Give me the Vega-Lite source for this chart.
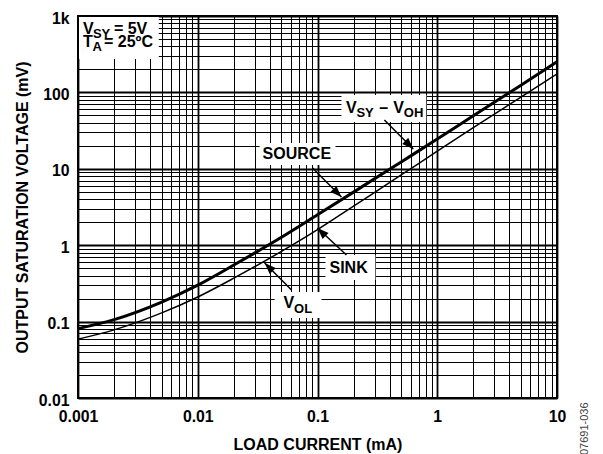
{
  "$schema": "https://vega.github.io/schema/vega-lite/v6.json",
  "width": 479,
  "height": 382,
  "autosize": {"type": "none"},
  "padding": {"left": 78, "top": 16, "right": 46, "bottom": 56},
  "background": "white",
  "config": {
    "view": {"stroke": null},
    "font": "Liberation Sans",
    "axis": {
      "labelFont": "Liberation Sans",
      "labelFontWeight": "bold",
      "labelFontSize": 15.8,
      "labelColor": "#000000",
      "titleFont": "Liberation Sans",
      "titleFontWeight": "bold",
      "titleFontSize": 16,
      "titleColor": "#000000",
      "domain": false,
      "ticks": false,
      "tickSize": 0,
      "grid": true,
      "gridColor": "#000000",
      "gridOpacity": 1,
      "labelFlush": false,
      "labelOverlap": false
    }
  },
  "datasets": {
    "curves": [
      {"series": "SOURCE", "current": 0.001, "voltage": 0.081},
      {"series": "SOURCE", "current": 0.002, "voltage": 0.106},
      {"series": "SOURCE", "current": 0.005, "voltage": 0.18},
      {"series": "SOURCE", "current": 0.01, "voltage": 0.30},
      {"series": "SOURCE", "current": 0.02, "voltage": 0.55},
      {"series": "SOURCE", "current": 0.05, "voltage": 1.27},
      {"series": "SOURCE", "current": 0.1, "voltage": 2.5},
      {"series": "SOURCE", "current": 0.2, "voltage": 4.95},
      {"series": "SOURCE", "current": 0.5, "voltage": 12.3},
      {"series": "SOURCE", "current": 1, "voltage": 24.5},
      {"series": "SOURCE", "current": 2, "voltage": 49.5},
      {"series": "SOURCE", "current": 5, "voltage": 124},
      {"series": "SOURCE", "current": 10, "voltage": 252},
      {"series": "SINK", "current": 0.001, "voltage": 0.059},
      {"series": "SINK", "current": 0.002, "voltage": 0.078},
      {"series": "SINK", "current": 0.005, "voltage": 0.13},
      {"series": "SINK", "current": 0.01, "voltage": 0.21},
      {"series": "SINK", "current": 0.02, "voltage": 0.37},
      {"series": "SINK", "current": 0.05, "voltage": 0.83},
      {"series": "SINK", "current": 0.1, "voltage": 1.6},
      {"series": "SINK", "current": 0.2, "voltage": 3.25},
      {"series": "SINK", "current": 0.5, "voltage": 8.3},
      {"series": "SINK", "current": 1, "voltage": 17.0},
      {"series": "SINK", "current": 2, "voltage": 34.5},
      {"series": "SINK", "current": 5, "voltage": 87},
      {"series": "SINK", "current": 10, "voltage": 174}
    ],
    "boxes": [
      {"box": "conditions", "x1": 0.001, "x2": 0.00473, "y1": 1000, "y2": 273.6},
      {"box": "VSY-VOH", "x1": 0.1585, "x2": 0.81, "y1": 92.5, "y2": 41},
      {"box": "SOURCE", "x1": 0.03285, "x2": 0.1413, "y1": 21.76, "y2": 11.21},
      {"box": "SINK", "x1": 0.1166, "x2": 0.3043, "y1": 0.744, "y2": 0.3504},
      {"box": "VOL", "x1": 0.04383, "x2": 0.108, "y1": 0.2439, "y2": 0.1115}
    ],
    "texts": [
      {"kind": "main", "text": "V", "x": 0.0011, "y": 581},
      {"kind": "sub", "text": "SY", "x": 0.001333, "y": 515},
      {"kind": "main", "text": "= 5V", "x": 0.001995, "y": 581},
      {"kind": "main", "text": "T", "x": 0.0011, "y": 387},
      {"kind": "sub", "text": "A", "x": 0.00132, "y": 348},
      {"kind": "main", "text": "= 25ºC", "x": 0.001647, "y": 387},
      {"kind": "main", "text": "V", "x": 0.1728, "y": 52.95},
      {"kind": "sub", "text": "SY", "x": 0.2114, "y": 47.65},
      {"kind": "main", "text": "–", "x": 0.3286, "y": 52.95},
      {"kind": "main", "text": "V", "x": 0.4299, "y": 52.95},
      {"kind": "sub", "text": "OH", "x": 0.5258, "y": 47.65},
      {"kind": "main", "text": "SOURCE", "x": 0.0348, "y": 13.31},
      {"kind": "main", "text": "SINK", "x": 0.1259, "y": 0.4288},
      {"kind": "main", "text": "V", "x": 0.0521, "y": 0.1507},
      {"kind": "sub", "text": "OL", "x": 0.0637, "y": 0.1308}
    ],
    "arrows": [
      {"label": "VSY-VOH", "dir": "down-right", "xt": 0.3619, "yt": 43.53, "xh": 0.631, "yh": 18.2},
      {"label": "SOURCE", "dir": "down-right", "xt": 0.09085, "yt": 10.24, "xh": 0.1585, "yh": 4.275},
      {"label": "SINK", "dir": "up-left", "xt": 0.1745, "yt": 0.7443, "xh": 0.1, "yh": 1.68},
      {"label": "VOL", "dir": "up-left", "xt": 0.06072, "yt": 0.2593, "xh": 0.03619, "yh": 0.5849}
    ]
  },
  "layer": [
    {
      "data": {"name": "curves"},
      "transform": [{"filter": "datum.series === 'SOURCE'"}],
      "mark": {"type": "line", "color": "#000000", "strokeWidth": 3, "interpolate": "monotone"},
      "encoding": {
        "x": {
          "field": "current",
          "type": "quantitative",
          "scale": {"type": "log", "domain": [0.001, 10], "nice": false},
          "axis": {
            "title": "LOAD CURRENT (mA)",
            "values": [0.001,0.002,0.003,0.004,0.005,0.006,0.007,0.008,0.009,0.01,0.02,0.03,0.04,0.05,0.06,0.07,0.08,0.09,0.1,0.2,0.3,0.4,0.5,0.6,0.7,0.8,0.9,1,2,3,4,5,6,7,8,9,10],
            "labelExpr": "indexof([0.001,0.01,0.1,1,10], datum.value) >= 0 ? format(datum.value, '~g') : ''",
            "gridWidth": {"condition": {"test": "indexof([0.001,0.01,0.1,1,10], datum.value) >= 0", "value": 1.8}, "value": 1},
            "labelPadding": 11,
            "titlePadding": 13
          }
        },
        "y": {
          "field": "voltage",
          "type": "quantitative",
          "scale": {"type": "log", "domain": [0.01, 1000], "nice": false},
          "axis": {
            "title": "OUTPUT SATURATION VOLTAGE (mV)",
            "values": [0.01,0.02,0.03,0.04,0.05,0.06,0.07,0.08,0.09,0.1,0.2,0.3,0.4,0.5,0.6,0.7,0.8,0.9,1,2,3,4,5,6,7,8,9,10,20,30,40,50,60,70,80,90,100,200,300,400,500,600,700,800,900,1000],
            "labelExpr": "datum.value == 1000 ? '1k' : (indexof([0.01,0.1,1,10,100], datum.value) >= 0 ? format(datum.value, '~g') : '')",
            "gridWidth": {"condition": {"test": "indexof([0.01,0.1,1,10,100,1000], datum.value) >= 0", "value": 1.8}, "value": 1},
            "labelPadding": 9,
            "labelOffset": 2,
            "titlePadding": 8
          }
        }
      }
    },
    {
      "data": {"name": "curves"},
      "transform": [{"filter": "datum.series === 'SINK'"}],
      "mark": {"type": "line", "color": "#000000", "strokeWidth": 1.5, "interpolate": "monotone"},
      "encoding": {
        "x": {"field": "current", "type": "quantitative"},
        "y": {"field": "voltage", "type": "quantitative"}
      }
    },
    {
      "data": {"name": "boxes"},
      "mark": {"type": "rect", "fill": "#ffffff", "stroke": null},
      "encoding": {
        "x": {"field": "x1", "type": "quantitative"},
        "x2": {"field": "x2"},
        "y": {"field": "y1", "type": "quantitative"},
        "y2": {"field": "y2"}
      }
    },
    {
      "data": {"name": "arrows"},
      "mark": {"type": "rule", "color": "#000000", "strokeWidth": 1.5},
      "encoding": {
        "x": {"field": "xt", "type": "quantitative"},
        "y": {"field": "yt", "type": "quantitative"},
        "x2": {"field": "xh"},
        "y2": {"field": "yh"}
      }
    },
    {
      "data": {"name": "arrows"},
      "transform": [{"filter": "datum.dir === 'down-right'"}],
      "mark": {"type": "point", "shape": "M0,0L0.75,2L-0.75,2Z", "size": 130, "filled": true, "color": "#000000", "opacity": 1, "angle": 135},
      "encoding": {
        "x": {"field": "xh", "type": "quantitative"},
        "y": {"field": "yh", "type": "quantitative"}
      }
    },
    {
      "data": {"name": "arrows"},
      "transform": [{"filter": "datum.dir === 'up-left'"}],
      "mark": {"type": "point", "shape": "M0,0L0.75,2L-0.75,2Z", "size": 130, "filled": true, "color": "#000000", "opacity": 1, "angle": 315},
      "encoding": {
        "x": {"field": "xh", "type": "quantitative"},
        "y": {"field": "yh", "type": "quantitative"}
      }
    },
    {
      "data": {"name": "texts"},
      "transform": [{"filter": "datum.kind === 'main'"}],
      "mark": {"type": "text", "align": "left", "baseline": "alphabetic", "font": "Liberation Sans", "fontWeight": "bold", "fontSize": 16, "color": "#000000"},
      "encoding": {
        "x": {"field": "x", "type": "quantitative"},
        "y": {"field": "y", "type": "quantitative"},
        "text": {"field": "text"}
      }
    },
    {
      "data": {"name": "texts"},
      "transform": [{"filter": "datum.kind === 'sub'"}],
      "mark": {"type": "text", "align": "left", "baseline": "alphabetic", "font": "Liberation Sans", "fontWeight": "bold", "fontSize": 13, "color": "#000000"},
      "encoding": {
        "x": {"field": "x", "type": "quantitative"},
        "y": {"field": "y", "type": "quantitative"},
        "text": {"field": "text"}
      }
    },
    {
      "data": {"values": [{}]},
      "mark": {"type": "rect", "fill": "transparent", "stroke": "#000000", "strokeWidth": 2},
      "encoding": {
        "x": {"datum": 0.001, "type": "quantitative"},
        "x2": {"datum": 10},
        "y": {"datum": 0.01, "type": "quantitative"},
        "y2": {"datum": 1000}
      }
    },
    {
      "data": {"values": [{"code": "07691-036"}]},
      "mark": {"type": "text", "angle": 270, "align": "left", "baseline": "alphabetic", "font": "Liberation Sans", "fontSize": 11, "color": "#444444", "dx": -57, "dy": 31},
      "encoding": {
        "x": {"datum": 10, "type": "quantitative"},
        "y": {"datum": 0.01, "type": "quantitative"},
        "text": {"field": "code"}
      }
    }
  ]
}
